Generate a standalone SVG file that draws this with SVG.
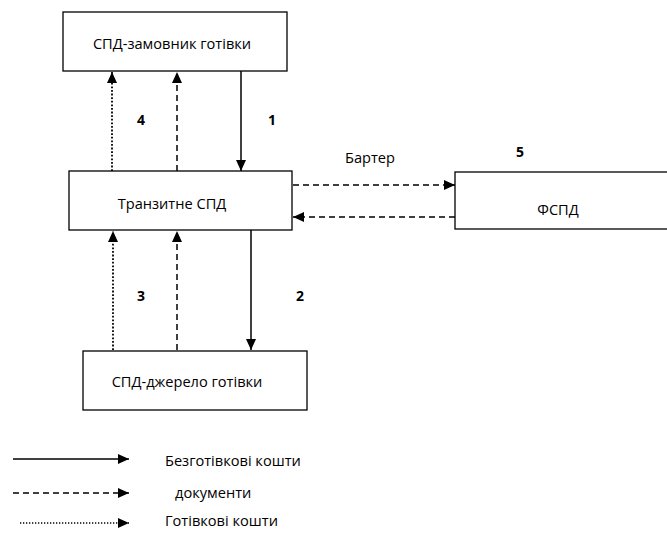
<svg xmlns="http://www.w3.org/2000/svg" width="667" height="537" viewBox="0 0 667 537">
<style>
.box{fill:#fff;stroke:#000;stroke-width:1.3}
.t{font-family:"Open Sans","Liberation Sans",sans-serif;font-size:14.6px;fill:#000}
.n{font-family:"Open Sans","Liberation Sans",sans-serif;font-size:14px;font-weight:bold;fill:#000}
.solid{stroke:#000;stroke-width:1.5;fill:none;marker-end:url(#ah)}
.dash{stroke:#000;stroke-width:1.5;fill:none;stroke-dasharray:6 4;marker-end:url(#ah)}
.dot{stroke:#000;stroke-width:1.8;fill:none;stroke-dasharray:1.8 1.8;marker-end:url(#ah)}
.dotl{stroke:#000;stroke-width:1.3;fill:none;stroke-dasharray:1.3 1.7;marker-end:url(#ah)}
</style>
<defs>
<marker id="ah" markerUnits="userSpaceOnUse" markerWidth="12" markerHeight="10" refX="11" refY="5" orient="auto">
<path d="M0,0 L11,5 L0,10 Z" fill="#000"/>
</marker>
</defs>
<rect width="667" height="537" fill="#fff"/>
<g id="connectors">
<line class="solid" x1="241" y1="71" x2="241" y2="171"/>
<line class="dot" x1="112" y1="171" x2="112" y2="72"/>
<line class="dash" x1="177" y1="171" x2="177" y2="72"/>
<line class="solid" x1="251" y1="230" x2="251" y2="350"/>
<line class="dot" x1="113" y1="350" x2="113" y2="231"/>
<line class="dash" x1="177" y1="350" x2="177" y2="231"/>
<line class="dash" x1="293" y1="185" x2="455" y2="185"/>
<line class="dash" x1="455" y1="217" x2="293" y2="217"/>
<text class="n" x="141" y="125" text-anchor="middle">4</text>
<text class="n" x="272" y="125" text-anchor="middle">1</text>
<text class="n" x="141" y="301" text-anchor="middle">3</text>
<text class="n" x="300" y="301" text-anchor="middle">2</text>
<text class="n" x="520" y="157" text-anchor="middle">5</text>
<text class="t" x="370" y="163" text-anchor="middle">Бартер</text>
</g>
<g id="n-zamovnyk">
<rect class="box" x="63" y="12" width="224" height="59"/>
<text class="t" x="172" y="49" text-anchor="middle">СПД-замовник готівки</text>
</g>
<g id="n-tranzyt">
<rect class="box" x="69" y="171" width="223" height="59"/>
<text class="t" x="172" y="209" text-anchor="middle">Транзитне СПД</text>
</g>
<g id="n-dzherelo">
<rect class="box" x="83" y="351" width="224" height="59"/>
<text class="t" x="187" y="387" text-anchor="middle">СПД-джерело готівки</text>
</g>
<g id="n-fspd">
<rect class="box" x="455" y="172" width="215" height="57"/>
<text class="t" x="558" y="215" text-anchor="middle">ФСПД</text>
</g>
<g id="legend">
<line class="solid" x1="13" y1="459" x2="129" y2="459"/>
<text class="t" x="165" y="466">Безготівкові кошти</text>
<line class="dash" x1="13" y1="493" x2="129" y2="493"/>
<text class="t" x="175" y="498">документи</text>
<line class="dotl" x1="20" y1="523" x2="129" y2="523"/>
<text class="t" x="165" y="526">Готівкові кошти</text>
</g>
</svg>
